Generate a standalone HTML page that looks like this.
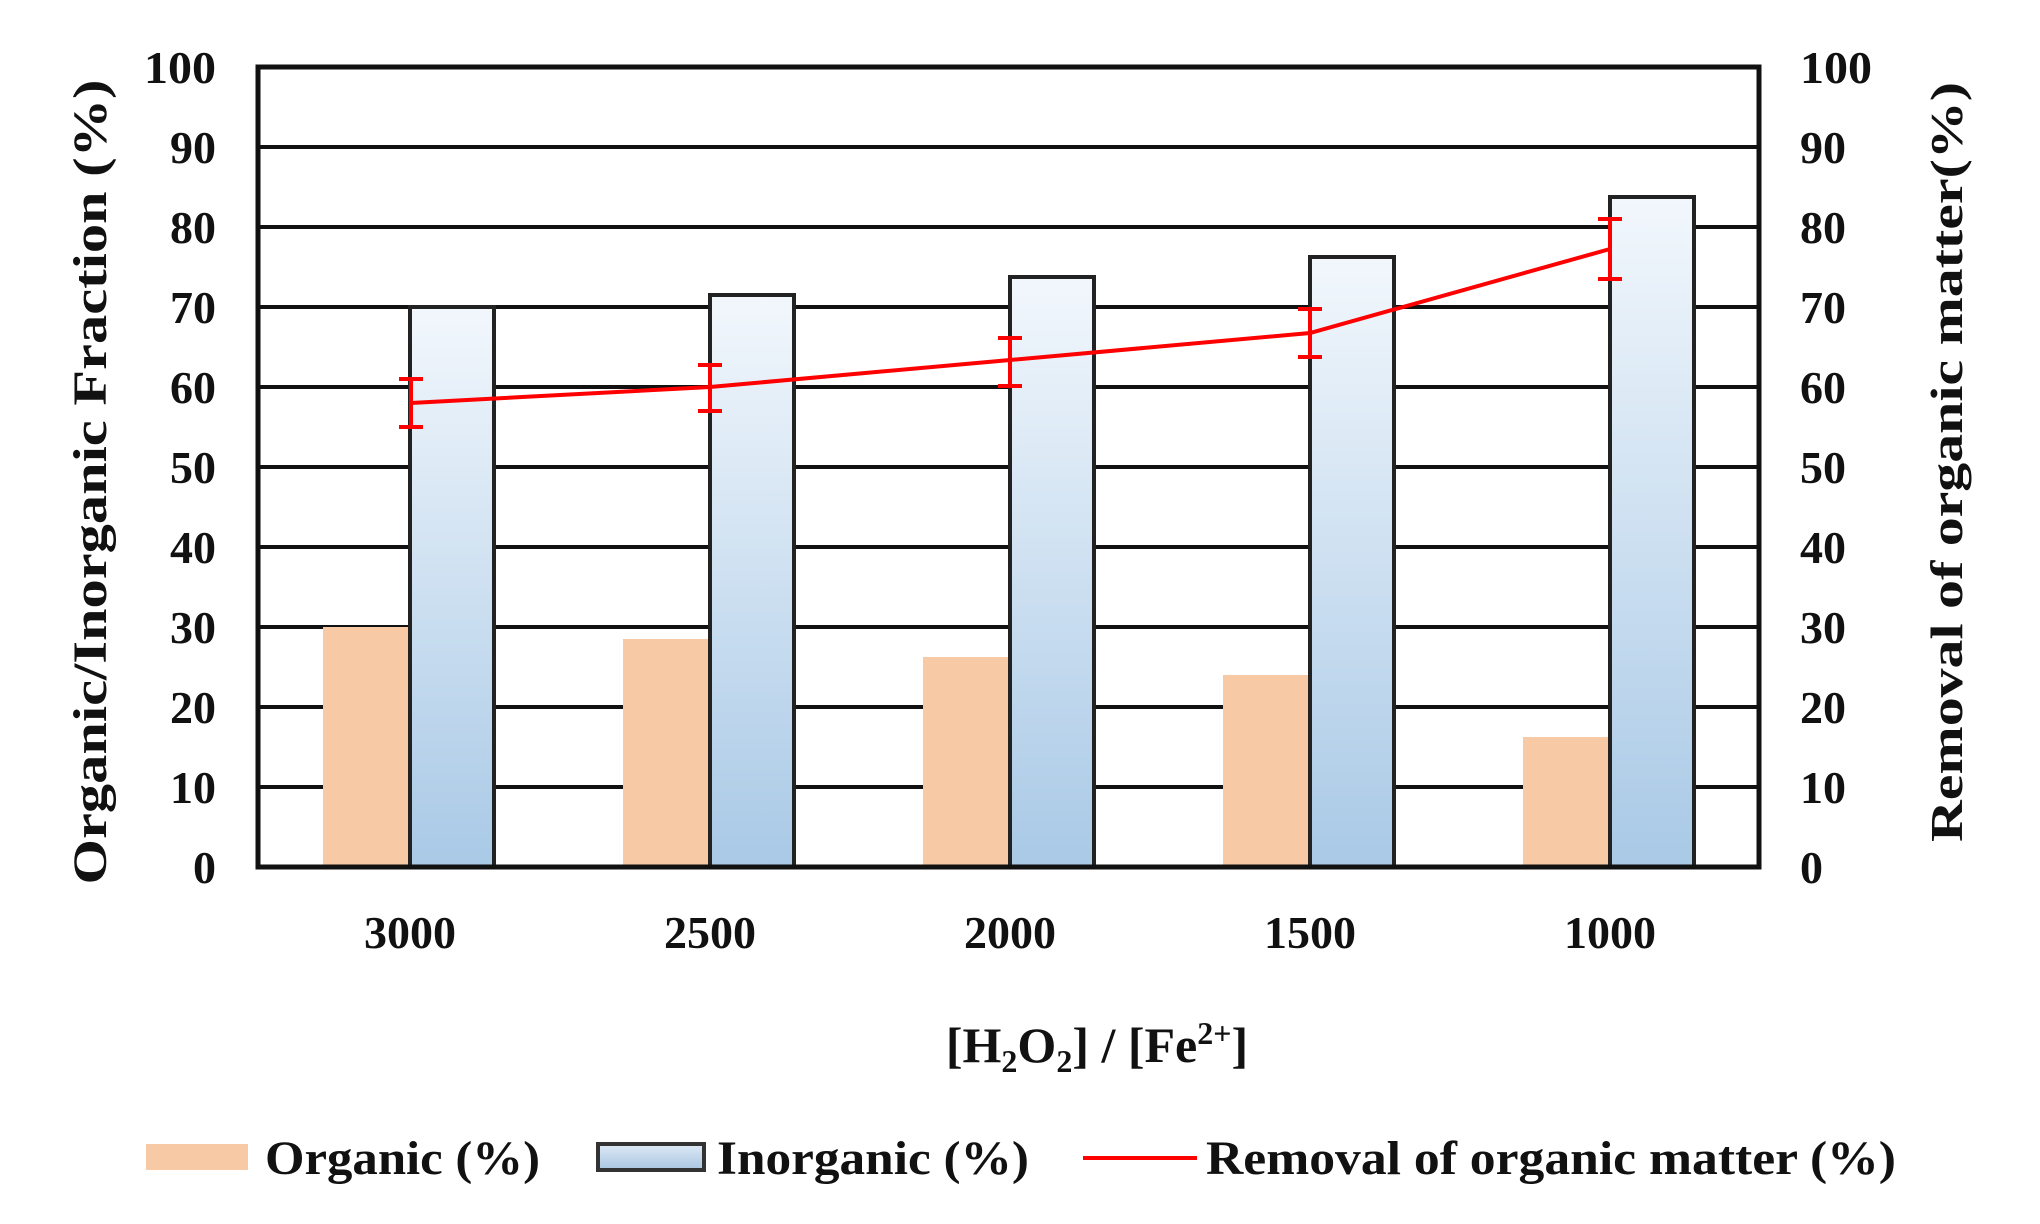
<!DOCTYPE html>
<html><head><meta charset="utf-8"><style>html,body{margin:0;padding:0;background:#fff}svg{display:block}</style></head>
<body>
<svg width="2040" height="1224" viewBox="0 0 2040 1224" xmlns="http://www.w3.org/2000/svg" font-family="Liberation Serif, serif" font-weight="bold">
<defs>
<linearGradient id="bg" x1="0" y1="0" x2="0" y2="1">
<stop offset="0" stop-color="#f2f7fc"/><stop offset="1" stop-color="#a9c9e6"/>
</linearGradient>
<linearGradient id="lg" x1="0" y1="0" x2="0" y2="1">
<stop offset="0" stop-color="#dde9f5"/><stop offset="1" stop-color="#a9c6e2"/>
</linearGradient>
</defs>
<g stroke="#111" stroke-width="4">
<line x1="258" y1="147" x2="1759" y2="147"/>
<line x1="258" y1="227" x2="1759" y2="227"/>
<line x1="258" y1="307" x2="1759" y2="307"/>
<line x1="258" y1="387" x2="1759" y2="387"/>
<line x1="258" y1="467" x2="1759" y2="467"/>
<line x1="258" y1="547" x2="1759" y2="547"/>
<line x1="258" y1="627" x2="1759" y2="627"/>
<line x1="258" y1="707" x2="1759" y2="707"/>
<line x1="258" y1="787" x2="1759" y2="787"/>
</g>
<g fill="#f7c9a5">
<rect x="323" y="627" width="85" height="240"/>
<rect x="623" y="639" width="85" height="228"/>
<rect x="923" y="657" width="85" height="210"/>
<rect x="1223" y="675" width="85" height="192"/>
<rect x="1523" y="737" width="85" height="130"/>
</g>
<g fill="url(#bg)" stroke="#222" stroke-width="4">
<rect x="410" y="307" width="84" height="560"/>
<rect x="710" y="295" width="84" height="572"/>
<rect x="1010" y="277" width="84" height="590"/>
<rect x="1310" y="257" width="84" height="610"/>
<rect x="1610" y="197" width="84" height="670"/>
</g>
<rect x="258" y="67" width="1501" height="800" fill="none" stroke="#111" stroke-width="5"/>
<polyline points="411,403 710,387 1010,360 1310,333 1610,249" fill="none" stroke="#f00" stroke-width="4"/>
<g stroke="#f00" stroke-width="4">
<line x1="411" y1="379" x2="411" y2="427"/><line x1="399" y1="379" x2="423" y2="379"/><line x1="399" y1="427" x2="423" y2="427"/>
<line x1="710" y1="365" x2="710" y2="411"/><line x1="698" y1="365" x2="722" y2="365"/><line x1="698" y1="411" x2="722" y2="411"/>
<line x1="1010" y1="338" x2="1010" y2="386"/><line x1="998" y1="338" x2="1022" y2="338"/><line x1="998" y1="386" x2="1022" y2="386"/>
<line x1="1310" y1="309" x2="1310" y2="357"/><line x1="1298" y1="309" x2="1322" y2="309"/><line x1="1298" y1="357" x2="1322" y2="357"/>
<line x1="1610" y1="219" x2="1610" y2="279"/><line x1="1598" y1="219" x2="1622" y2="219"/><line x1="1598" y1="279" x2="1622" y2="279"/>
</g>
<g font-size="46" text-anchor="end" fill="#111" lengthAdjust="spacingAndGlyphs">
<text x="216" y="83" textLength="72" lengthAdjust="spacingAndGlyphs">100</text><text x="216" y="163">90</text><text x="216" y="243">80</text><text x="216" y="323">70</text><text x="216" y="403">60</text><text x="216" y="483">50</text><text x="216" y="563">40</text><text x="216" y="643">30</text><text x="216" y="723">20</text><text x="216" y="803">10</text><text x="216" y="883">0</text>
</g>
<g font-size="46" text-anchor="start" fill="#111">
<text x="1800" y="83" textLength="72" lengthAdjust="spacingAndGlyphs">100</text><text x="1800" y="163">90</text><text x="1800" y="243">80</text><text x="1800" y="323">70</text><text x="1800" y="403">60</text><text x="1800" y="483">50</text><text x="1800" y="563">40</text><text x="1800" y="643">30</text><text x="1800" y="723">20</text><text x="1800" y="803">10</text><text x="1800" y="883">0</text>
</g>
<g font-size="46" text-anchor="middle" fill="#111">
<text x="410" y="948">3000</text><text x="710" y="948">2500</text><text x="1010" y="948">2000</text><text x="1310" y="948">1500</text><text x="1610" y="948">1000</text>
</g>
<text x="1097" y="1062" font-size="50" text-anchor="middle" fill="#111">[H<tspan font-size="32" dy="10">2</tspan><tspan dy="-10">O</tspan><tspan font-size="32" dy="10">2</tspan><tspan dy="-10">] / [Fe</tspan><tspan font-size="32" dy="-18">2+</tspan><tspan dy="18">]</tspan></text>
<text transform="translate(106,482) rotate(-90)" font-size="48" text-anchor="middle" fill="#111" textLength="805" lengthAdjust="spacingAndGlyphs">Organic/Inorganic  Fraction (%)</text>
<text transform="translate(1962,462) rotate(-90)" font-size="46" text-anchor="middle" fill="#111" textLength="760" lengthAdjust="spacingAndGlyphs">Removal of organic matter(%)</text>
<rect x="146" y="1144" width="102" height="26" fill="#f7c9a5"/>
<rect x="598" y="1144" width="106" height="26" fill="url(#lg)" stroke="#333" stroke-width="4"/>
<line x1="1083" y1="1158" x2="1197" y2="1158" stroke="#f00" stroke-width="4"/>
<g font-size="48" fill="#111">
<text x="265" y="1174" textLength="275" lengthAdjust="spacingAndGlyphs">Organic (%)</text>
<text x="717" y="1174" textLength="312" lengthAdjust="spacingAndGlyphs">Inorganic (%)</text>
<text x="1206" y="1174" textLength="690" lengthAdjust="spacingAndGlyphs">Removal of organic matter (%)</text>
</g>
</svg>
</body></html>
